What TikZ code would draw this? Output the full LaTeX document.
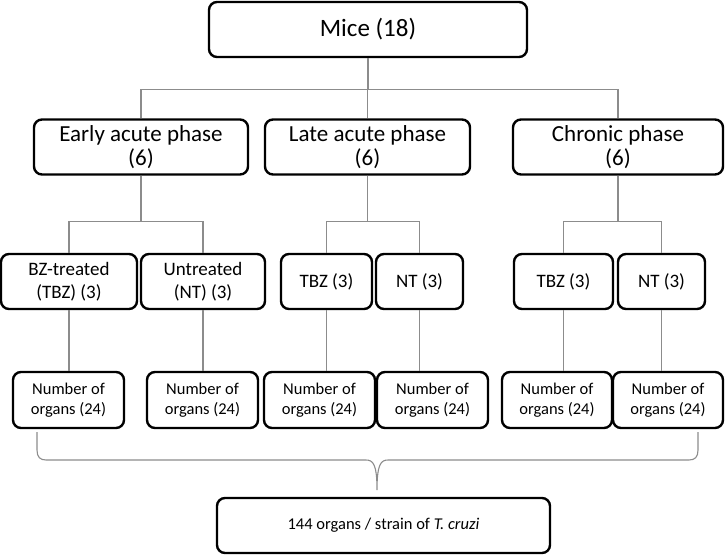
\documentclass[tikz,border=0pt]{standalone}
\usepackage{fontspec}
\setmainfont{Carlito}
\begin{document}
\begin{tikzpicture}
[x=1pt,y=-1pt,
    box/.style={draw,line width=2.4pt,rounded corners=8pt,inner sep=0pt,align=center,minimum height=55pt},
    rootbox/.style={box,font=\fontsize{25}{28}\selectfont},
    phasebox/.style={box,font=\fontsize{23}{24}\selectfont},
    grpbox/.style={box,font=\fontsize{19}{23}\selectfont},
    orgbox/.style={box,minimum height=56pt,font=\fontsize{16.5}{20}\selectfont},
    sumbox/.style={box,font=\fontsize{16.5}{19}\selectfont},
    link/.style={draw=black!45,line width=1.1pt}]
\useasboundingbox (0,0) rectangle (725,555);
%% top
\node (mice) [rootbox,minimum width=318pt] at (368,29.5) {Mice (18)};
%% phases
\node (early) [phasebox,minimum width=214pt] at (141,147) {Early acute phase\\(6)};
\node (late) [phasebox,minimum width=205pt] at (367.5,147) {Late acute phase\\(6)};
\node (chronic) [phasebox,minimum width=210pt] at (618,147) {Chronic phase\\(6)};
%% treatment groups
\node (bzt) [grpbox,minimum width=136pt] at (69,281.5) {BZ-treated\\(TBZ) (3)};
\node (unt) [grpbox,minimum width=124pt] at (203,281.5) {Untreated\\(NT) (3)};
\node (ltbz) [grpbox,minimum width=91pt] at (326.5,281.5) {TBZ (3)};
\node (lnt) [grpbox,minimum width=87pt] at (419.5,281.5) {NT (3)};
\node (ctbz) [grpbox,minimum width=99pt] at (563.5,281.5) {TBZ (3)};
\node (cnt) [grpbox,minimum width=87pt] at (661.5,281.5) {NT (3)};
%% organs
\node (o1) [orgbox,minimum width=111pt] at (68.5,400) {Number of\\organs (24)};
\node (o2) [orgbox,minimum width=111pt] at (202.5,400) {Number of\\organs (24)};
\node (o3) [orgbox,minimum width=111pt] at (319.5,400) {Number of\\organs (24)};
\node (o4) [orgbox,minimum width=111pt] at (432.5,400) {Number of\\organs (24)};
\node (o5) [orgbox,minimum width=110pt] at (557,400) {Number of\\organs (24)};
\node (o6) [orgbox,minimum width=110pt] at (668,400) {Number of\\organs (24)};
%% total
\node (total) [sumbox,minimum width=333pt] at (383.5,525.5) {144 organs / strain of \textit{T. cruzi}};
%% edges
\draw[link] (mice.south) -- ++(0,31) -| (early.north);
\draw[link] (mice.south) -- ++(0,31) -| (late.north);
\draw[link] (mice.south) -- ++(0,31) -| (chronic.north);
%%
\draw[link] (early.south) -- ++(0,46) -| (bzt.north);
\draw[link] (early.south) -- ++(0,46) -| (unt.north);
\draw[link] (late.south) -- ++(0,46) -| (ltbz.north);
\draw[link] (late.south) -- ++(0,46) -| (lnt.north);
\draw[link] (chronic.south) -- ++(0,46) -| (ctbz.north);
\draw[link] (chronic.south) -- ++(0,46) -| (cnt.north);
%%
\draw[link] (bzt.south) -- (bzt.south |- o1.north);
\draw[link] (unt.south) -- (unt.south |- o2.north);
\draw[link] (ltbz.south) -- (ltbz.south |- o3.north);
\draw[link] (lnt.south) -- (lnt.south |- o4.north);
\draw[link] (ctbz.south) -- (ctbz.south |- o5.north);
\draw[link] (cnt.south) -- (cnt.south |- o6.north);
%% brace
\coordinate (bl) at (37,432);
\coordinate (br) at (698,432);
\coordinate (tip) at (377,490);
\draw[link] (bl) -- (37,450) .. controls (37,457) and (40,460) .. (46,460) -- (366,460)
  .. controls (373,460) and (377,464) .. (tip)
  .. controls (377,464) and (381,460) .. (388,460) -- (689,460)
  .. controls (695,460) and (698,457) .. (698,450) -- (br);
\end{tikzpicture}
\end{document}
